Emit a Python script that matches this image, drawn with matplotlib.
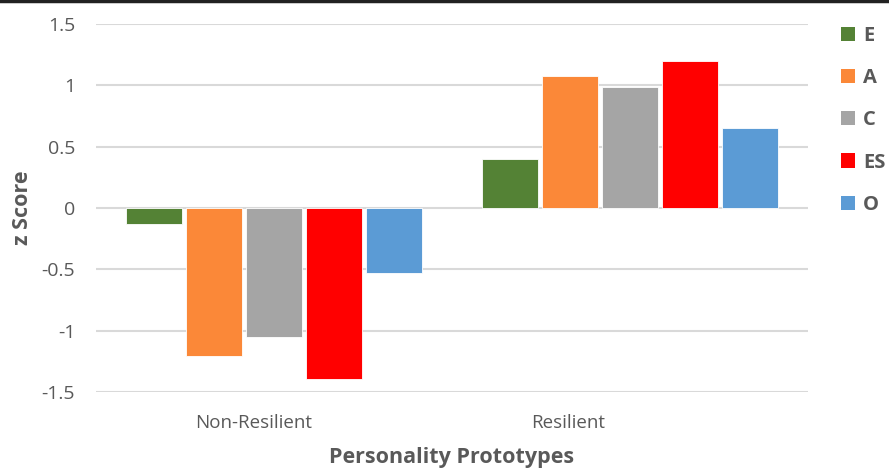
import numpy as np
import matplotlib.pyplot as plt
from matplotlib.transforms import ScaledTranslation
from matplotlib.patches import Patch

# Datos: puntuaciones z por prototipo de personalidad
prototypes = ['Non-Resilient', 'Resilient']
traits = ['E', 'A', 'C', 'ES', 'O']
E = [-0.13, 0.40]
A = [-1.21, 1.08]
C = [-1.05, 0.99]
ES = [-1.39, 1.20]
O = [-0.53, 0.65]
series = [E, A, C, ES, O]
colors = ['#548235', '#FB8838', '#A5A5A5', '#FF0000', '#5B9BD5']

plt.rcParams['font.family'] = ['Open Sans', 'DejaVu Sans']
gray = '#595959'

fig = plt.figure(figsize=(8.89, 4.71), dpi=100)
ax = fig.add_axes([96 / 889, 79 / 471, 712 / 889, 368 / 471])

# Barras agrupadas
x = np.arange(len(prototypes))
slot = 0.169
width = 0.158
for i, (vals, col, name) in enumerate(zip(series, colors, traits)):
    ax.bar(x + (i - 2) * slot, vals, width, color=col, edgecolor='white',
           linewidth=0.6, label=name, zorder=3)

ax.set_xlim(-0.5, 1.5)
ax.set_ylim(-1.5, 1.5)
ax.set_yticks([-1.5, -1, -0.5, 0, 0.5, 1, 1.5])
ax.set_yticklabels(['-1.5', '-1', '-0.5', '0', '0.5', '1', '1.5'])
ax.grid(axis='y', color='#D9D9D9', linewidth=1.5, zorder=0)
for s in ax.spines.values():
    s.set_visible(False)
ax.tick_params(axis='both', length=0, colors=gray)
ax.tick_params(axis='y', pad=15, labelsize=14)
ax.tick_params(axis='x', pad=16, labelsize=13.5)

ax.set_xticks(x)
ax.set_xticklabels(prototypes)
# desplazar etiquetas del eje x
for lab, dx in zip(ax.get_xticklabels(), [-20, -62]):
    lab.set_transform(lab.get_transform() + ScaledTranslation(dx / 100, 0, fig.dpi_scale_trans))

ax.set_xlabel('Personality Prototypes', fontsize=15.5, fontweight='bold', color=gray, labelpad=11)
ax.set_ylabel('z Score', fontsize=15.5, fontweight='bold', color=gray, labelpad=6)

# Leyenda con cuadrados
handles = [Patch(facecolor=c, edgecolor='none') for c in colors]
fig.legend(handles, traits, loc='upper left', bbox_to_anchor=(823 / 889, 1 - 8 / 471),
           frameon=False, handlelength=0.7, handleheight=0.7, handletextpad=0.4,
           labelspacing=1.1, prop={'weight': 'bold', 'size': 14.5}, labelcolor=gray)

# Línea superior del marco
fig.add_artist(plt.Line2D([0, 1], [0.998, 0.998], color='#222222', linewidth=2.5,
                          transform=fig.transFigure))

fig.savefig('out.png', dpi=100)
